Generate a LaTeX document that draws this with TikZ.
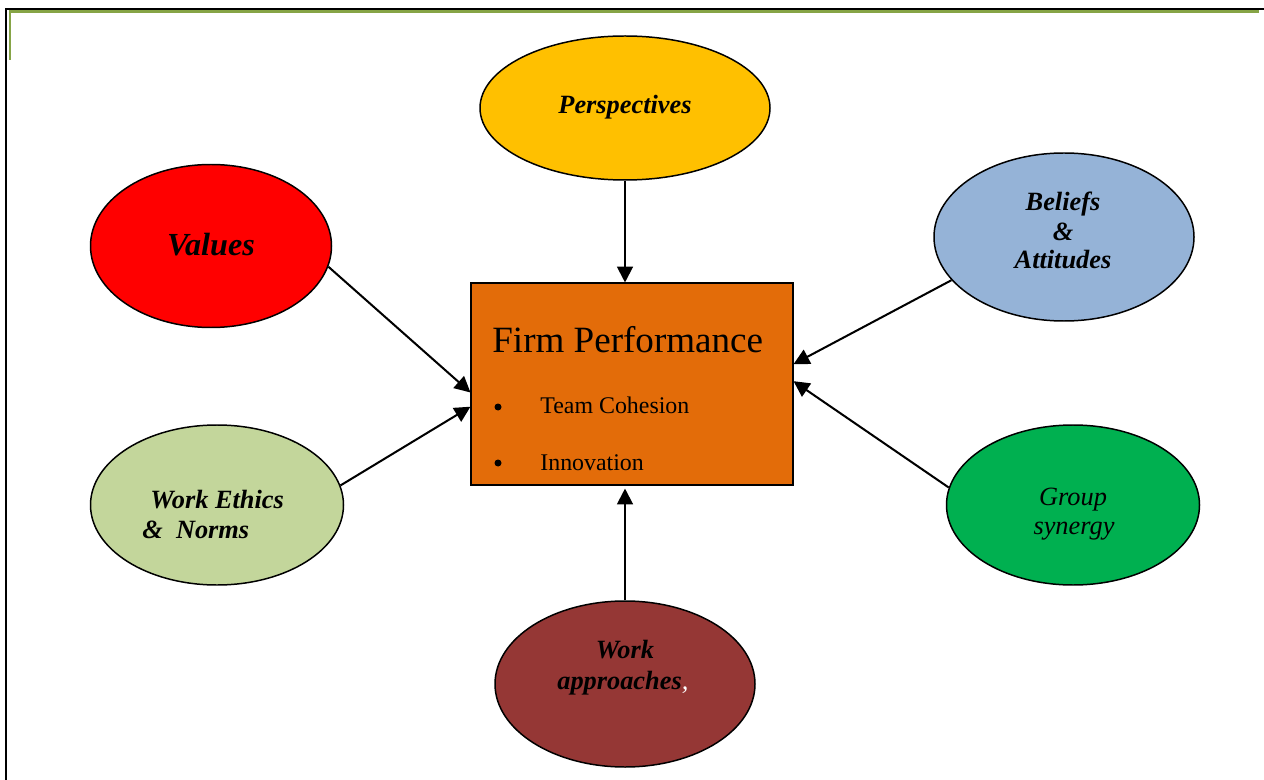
\documentclass[tikz,border=0pt]{standalone}
\usepackage{fontspec}
\setmainfont{Liberation Serif}
\usetikzlibrary{shapes.geometric,arrows.meta}
\newlength{\pxu}\setlength{\pxu}{0.02cm}
\definecolor{cPersp}{HTML}{FFC000}
\definecolor{cValues}{HTML}{FF0000}
\definecolor{cBel}{HTML}{95B3D7}
\definecolor{cEth}{HTML}{C3D69B}
\definecolor{cGrp}{HTML}{00B050}
\definecolor{cAppr}{HTML}{953735}
\definecolor{cFirm}{HTML}{E36C09}
\definecolor{cFrame}{HTML}{86A446}
\begin{document}
\begin{tikzpicture}[x=0.02cm,y=-0.02cm,
  bubble/.style={ellipse,draw=black,line width=0.85pt,inner sep=0},
  lab/.style={inner sep=0,anchor=base,font=\fontsize{15}{18}\selectfont\bfseries\itshape},
  lablt/.style={lab,anchor=base west},
  labit/.style={lab,font=\fontsize{15}{18}\selectfont\itshape},
  plain/.style={inner sep=0,anchor=base west,font=\fontsize{13.6}{16}\selectfont},
  bul/.style={circle,fill=black,inner sep=0,minimum size=7\pxu},
  conn/.style={line width=1.15pt,-{Triangle[length=9pt,width=9pt]}}
]
\useasboundingbox (0,0) rectangle (1264,780);
% frame
\draw[line width=2.6\pxu] (6,780) -- (6,9) -- (1264,9);
\draw[cFrame,line width=2.4\pxu] (10,60) -- (10,11.5) -- (1259,11.5);
% central box
\node[draw=black,fill=cFirm,line width=0.6pt,minimum width=322\pxu,minimum height=202\pxu,inner sep=0] (fp) at (632,384) {};
\node[inner sep=0,anchor=base west,font=\fontsize{21.1}{25}\selectfont] (tFirm) at (492,353) {Firm Performance};
\node[bul] (b1) at (498,407) {};
\node[plain] (tTeam) at (540,413) {Team Cohesion};
\node[bul] (b2) at (498,463) {};
\node[plain] (tInno) at (540,470) {Innovation};
% ellipses
\node[bubble,fill=cPersp,minimum width=290\pxu,minimum height=144\pxu] (persp) at (625,108) {};
\node[bubble,fill=cValues,minimum width=241\pxu,minimum height=163\pxu] (values) at (211,246) {};
\node[bubble,fill=cBel,minimum width=260\pxu,minimum height=168\pxu] (belief) at (1064,237) {};
\node[bubble,fill=cEth,minimum width=253\pxu,minimum height=160\pxu] (ethics) at (217,505) {};
\node[bubble,fill=cGrp,minimum width=253\pxu,minimum height=160\pxu] (group) at (1073,505) {};
\node[bubble,fill=cAppr,minimum width=260\pxu,minimum height=166\pxu] (appr) at (625,684) {};
% labels
\node[lab] (tPersp) at (625,114) {Perspectives};
\node[lab,font=\fontsize{18.3}{21}\selectfont\bfseries\itshape] (tValues) at (211,256) {Values};
\node[lab] (tBel1) at (1063,211) {Beliefs};
\node[lab] (tBel2) at (1063,241) {\&};
\node[lab] (tBel3) at (1063,269) {Attitudes};
\node[lablt] (tEth1) at (150,508) {Work Ethics};
\node[lablt] (tEth2) at (142,538) {\&\ \ Norms};
\node[labit] (tGrp1) at (1073,505) {Group};
\node[labit] (tGrp2) at (1074,534) {synergy};
\node[lab] (tAppr1) at (625,658) {Work};
\node[lablt] (tAppr2) at (557,689) {approaches\textcolor{white}{\mdseries,}};
% connectors
\draw[conn] (persp.south) -- (persp.south |- fp.north);
\draw[conn] (values.-10) -- (fp.183);
\draw[conn] (ethics.9) -- (fp.188);
\draw[conn] (belief.201.6) -- (fp.7.3);
\draw[conn] (group.172.3) -- (fp.1.4);
\draw[conn,shorten >=3\pxu] (appr.north) -- (appr.north |- fp.south);
\end{tikzpicture}
\end{document}
